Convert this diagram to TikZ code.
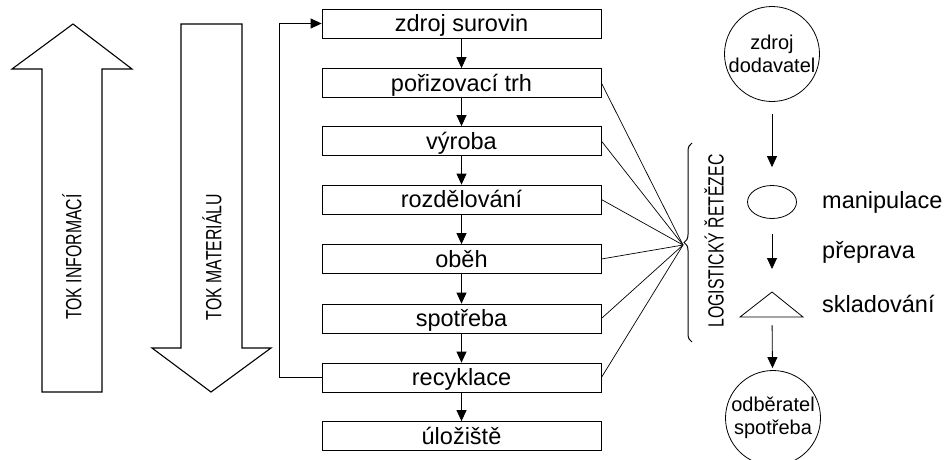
\documentclass[tikz,border=0pt]{standalone}
\usepackage{fontspec}
\setmainfont{Liberation Sans}
\newfontfamily\narrowfont[FakeStretch=0.72]{Liberation Sans}
\usetikzlibrary{arrows.meta,decorations.pathreplacing,shapes.geometric}

\tikzset{
  stage/.style={draw,line width=0.8pt,minimum width=279pt,minimum height=29pt,
    inner sep=0pt,text height=19pt,text depth=3pt,font=\fontsize{23.5}{26}\selectfont},
  flow/.style={-{Triangle[length=11pt,width=10pt]},line width=0.8pt},
  bigarrow/.style={line width=1.1pt,line join=miter},
  endpoint/.style={draw,circle,line width=0.8pt,minimum size=95pt,inner sep=0pt,
    align=center,font=\fontsize{20}{22.5}\selectfont},
  legend/.style={anchor=base west,inner sep=0pt,font=\fontsize{23.5}{26}\selectfont},
  sidelabel/.style={rotate=90,inner sep=0pt,font=\narrowfont\fontsize{22}{24}\selectfont}
}

\begin{document}
\begin{tikzpicture}[x=1pt,y=-1pt]
\useasboundingbox (0,0) rectangle (947,459);

% velke sipky vlevo
\draw[bigarrow] (42,392) -- (42,69) -- (12,69) -- (73,24) -- (132,69) -- (102,69) -- (102,392) -- cycle;
\node[sidelabel] (info) at (72,257) {TOK INFORMACÍ};
\draw[bigarrow] (181,24) -- (242,24) -- (242,348) -- (271,348) -- (211,392) -- (152,348) -- (181,348) -- cycle;
\node[sidelabel] (material) at (212,257) {TOK MATERIÁLU};

% stupne retezce
\node[stage] (source) at (461.5,23.5) {zdroj surovin};
\node[stage] (market) at (461.5,83) {pořizovací trh};
\node[stage] (production) at (461.5,141) {výroba};
\node[stage] (distribution) at (461.5,199.5) {rozdělování};
\node[stage] (circulation) at (461.5,259) {oběh};
\node[stage] (consumption) at (461.5,318.5) {spotřeba};
\node[stage] (recycling) at (461.5,377.5) {recyklace};
\node[stage] (storage) at (461.5,436) {úložiště};

\draw[flow] (source) -- (market);
\draw[flow] (market) -- (production);
\draw[flow] (production) -- (distribution);
\draw[flow] (distribution) -- (circulation);
\draw[flow] (circulation) -- (consumption);
\draw[flow] (consumption) -- (recycling);
\draw[flow] (recycling) -- (storage);
\draw[flow] (recycling.west) -- ++(-42,0) |- (source.west);

% logisticky retezec
\coordinate (hub) at (683,245);
\foreach \n in {market,production,distribution,circulation,consumption,recycling}
  \draw[line width=0.7pt] (\n.east) -- (hub);
\draw[line width=1pt,decorate,decoration={brace,amplitude=8pt}] (692,342) -- (692,143);
\node[sidelabel] (chain) at (714,241) {LOGISTICKÝ ŘETĚZEC};

% legenda vpravo
\node[endpoint] (supplier) at (772,54) {zdroj\\dodavatel};
\node[draw,ellipse,line width=0.8pt,minimum width=49pt,minimum height=33pt,inner sep=0pt] (handling) at (772,202) {};
\draw[line width=0.8pt] (740,317) -- (772,292) coordinate (store) -- (803,317) -- cycle;
\coordinate (storebase) at (772,317);
\node[endpoint] (customer) at (773,418) {odběratel\\spotřeba};

\draw[flow,shorten <=12pt,shorten >=18pt] (supplier) -- (handling);
\draw[flow,shorten <=15pt,shorten >=23pt] (handling) -- (store);
\draw[flow,shorten <=8pt,shorten >=2pt] (storebase) -- (customer);

\node[legend] (handlingtext) at (822,208) {manipulace};
\node[legend] (transporttext) at (822,258) {přeprava};
\node[legend] (storetext) at (822,312) {skladování};
\end{tikzpicture}
\end{document}
